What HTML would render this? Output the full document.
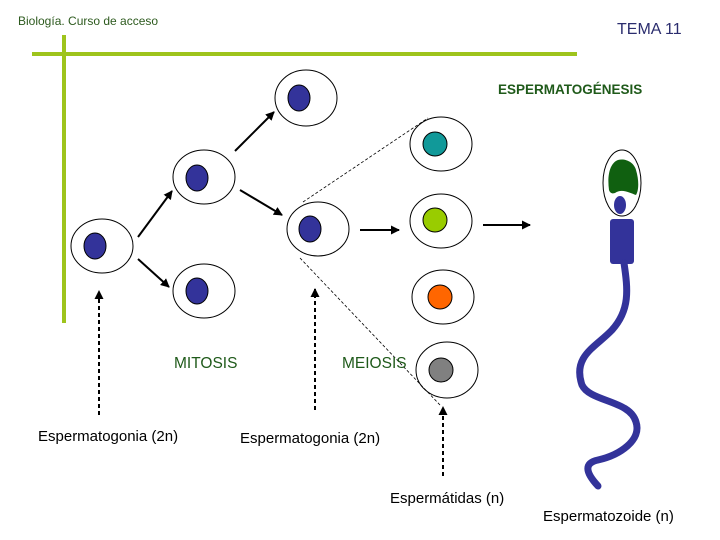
<!DOCTYPE html>
<html><head><meta charset="utf-8"><style>
body{margin:0;background:#fff;}
svg{display:block;font-family:"Liberation Sans",sans-serif;}
</style></head><body>
<svg width="720" height="540" viewBox="0 0 720 540" xmlns="http://www.w3.org/2000/svg">
<defs>
<marker id="ah" markerWidth="9" markerHeight="9" refX="8" refY="4.5" orient="auto" markerUnits="userSpaceOnUse"><path d="M0,0 L9,4.5 L0,9 z" fill="#000"/></marker>
</defs>
<text x="18" y="25" font-size="12" fill="#2d5a1e">Biología. Curso de acceso</text>
<text x="617" y="34" font-size="16" fill="#2b2d6e">TEMA 11</text>
<rect x="62" y="35" width="4" height="288" fill="#9ec41c"/>
<rect x="32" y="52" width="545" height="4" fill="#9ec41c"/>
<text x="498" y="94" font-size="13.5" font-weight="bold" fill="#1f5a1a">ESPERMATOGÉNESIS</text>

<g stroke="#000" stroke-width="1" fill="#fff">
<ellipse cx="102" cy="246" rx="31" ry="27"/>
<ellipse cx="204" cy="177" rx="31" ry="27"/>
<ellipse cx="306" cy="98" rx="31" ry="28"/>
<ellipse cx="204" cy="291" rx="31" ry="27"/>
<ellipse cx="318" cy="229" rx="31" ry="27"/>
<ellipse cx="441" cy="144" rx="31" ry="27"/>
<ellipse cx="441" cy="221" rx="31" ry="27"/>
<ellipse cx="443" cy="297" rx="31" ry="27"/>
<ellipse cx="447" cy="370" rx="31" ry="28"/>
</g>
<g stroke="#000" stroke-width="1">
<ellipse cx="95" cy="246" rx="11" ry="13" fill="#33339a"/>
<ellipse cx="197" cy="178" rx="11" ry="13" fill="#33339a"/>
<ellipse cx="299" cy="98" rx="11" ry="13" fill="#33339a"/>
<ellipse cx="197" cy="291" rx="11" ry="13" fill="#33339a"/>
<ellipse cx="310" cy="229" rx="11" ry="13" fill="#33339a"/>
<ellipse cx="435" cy="144" rx="12" ry="12" fill="#119999"/>
<ellipse cx="435" cy="220" rx="12" ry="12" fill="#99cc00"/>
<ellipse cx="440" cy="297" rx="12" ry="12" fill="#ff6600"/>
<ellipse cx="441" cy="370" rx="12" ry="12" fill="#808080"/>
</g>
<g stroke="#000" stroke-width="2" marker-end="url(#ah)">
<line x1="138" y1="237" x2="172" y2="191"/>
<line x1="138" y1="259" x2="169" y2="287"/>
<line x1="235" y1="151" x2="274" y2="112"/>
<line x1="240" y1="190" x2="282" y2="215"/>
<line x1="360" y1="230" x2="399" y2="230"/>
<line x1="483" y1="225" x2="530" y2="225"/>
</g>
<g stroke="#000" stroke-width="0.8" stroke-dasharray="3,2">
<line x1="303" y1="202" x2="428" y2="118"/>
<line x1="300" y1="258" x2="440" y2="405"/>
</g>
<g stroke="#000" stroke-width="2" stroke-dasharray="4,3" marker-end="url(#ah)">
<line x1="99" y1="415" x2="99" y2="291"/>
<line x1="315" y1="410" x2="315" y2="289"/>
<line x1="443" y1="476" x2="443" y2="407"/>
</g>
<text x="174" y="368" font-size="15.5" fill="#1f5a1a">MITOSIS</text>
<text x="342" y="368" font-size="15.5" fill="#1f5a1a">MEIOSIS</text>
<text x="38" y="441" font-size="15" fill="#000">Espermatogonia (2n)</text>
<text x="240" y="443" font-size="15" fill="#000">Espermatogonia (2n)</text>
<text x="390" y="503" font-size="15" fill="#000">Espermátidas (n)</text>
<text x="543" y="521" font-size="15" fill="#000">Espermatozoide (n)</text>

<!-- sperm -->
<ellipse cx="622" cy="183" rx="19" ry="33" fill="#fff" stroke="#000" stroke-width="1"/>
<path d="M609,190 C607,175 610,163 618,160 C625,158 634,162 636,170 C639,180 639,190 636,195 C630,193 622,188 615,193 C612,194 610,193 609,190 Z" fill="#106010"/>
<ellipse cx="620" cy="205" rx="6" ry="9" fill="#33339a"/>
<rect x="610" y="219" width="24" height="45" rx="3" fill="#33339a"/>
<path d="M624,263 C628,290 630,310 612,330 C596,347 572,356 582,385 C590,402 630,400 636,422 C642,440 620,455 598,460 C584,463 585,472 598,486" fill="none" stroke="#33339a" stroke-width="7" stroke-linecap="round"/>
</svg>
</body></html>
